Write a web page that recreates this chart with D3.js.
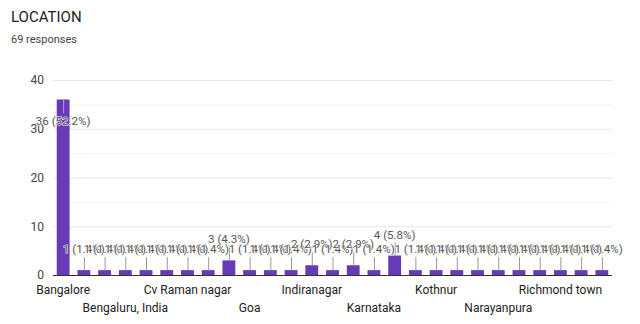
<!DOCTYPE html>
<html>
<head>
<meta charset="utf-8">
<script src="https://cdnjs.cloudflare.com/ajax/libs/d3/7.8.5/d3.min.js"></script>
<style>
  body { margin: 0; background: #fff; }
  text { font-family: Roboto, "Noto Sans", Arial, sans-serif; }
</style>
</head>
<body>
<div id="chart"></div>
<script>
// Data
var categories = ["Bangalore", "Bangalore, India", "Banglore", "Bengaluru, India", "Bommanahalli",
  "Btm layout", "Cv Raman nagar", "Domlur", "Electronic city", "Goa", "Hebbal", "Hsr layout",
  "Indiranagar", "Jakkur", "Jayanagar", "Karnataka", "Koramangala", "Kormangala", "Kothnur",
  "Marathahalli", "Mysore", "Narayanpura", "Old airport road", "Rajajinagar", "Richmond town",
  "Whitefield", "Yelahanka"];
var counts = [36, 1, 1, 1, 1, 1, 1, 1, 3, 1, 1, 1, 2, 1, 2, 1, 4, 1, 1, 1, 1, 1, 1, 1, 1, 1, 1];
var yTicks = [0, 10, 20, 30, 40];
var total = 69;

var svgWidth = 640;
var svgHeight = 324;

var svg = d3.select("#chart")
  .append("svg")
  .attr("width", svgWidth)
  .attr("height", svgHeight);

// Title
svg.append("text")
  .attr("x", 11)
  .attr("y", 22)
  .attr("font-size", "15px")
  .attr("fill", "#202124")
  .text("LOCATION");

svg.append("text")
  .attr("x", 11)
  .attr("y", 43)
  .attr("font-size", "11px")
  .attr("fill", "#444")
  .text(total + " responses");

var data = categories.map((c, i) => ({ name: c, value: counts[i] }));

var x = d3.scaleBand()
  .domain(categories)
  .range([53, 612])
  .paddingInner(0.38)
  .paddingOuter(0.18);

var y = d3.scaleLinear()
  .domain([0, 40])
  .range([275, 80]);

// Gridlines (major and minor)
svg.append("g")
  .selectAll("line")
  .data(d3.range(5, 45, 5))
  .enter()
  .append("line")
  .attr("x1", 53)
  .attr("x2", 612)
  .attr("y1", d => y(d) + 0.5)
  .attr("y2", d => y(d) + 0.5)
  .attr("stroke", d => d % 10 === 0 ? "#e6e6e6" : "#f3f3f3")
  .attr("stroke-width", 1);

// Y axis labels
var leftAxis = d3.axisLeft(y).tickValues(yTicks).tickSize(0).tickPadding(9);
var yAxis = svg.append("g")
  .attr("transform", "translate(53,0)")
  .call(leftAxis);
yAxis.select(".domain").remove();
yAxis.selectAll("text")
  .attr("font-size", "12px")
  .attr("fill", "#444")
  .style("font-family", "Roboto, sans-serif");

// Bars
svg.append("g")
  .selectAll("rect")
  .data(data)
  .enter()
  .append("rect")
  .attr("x", d => x(d.name))
  .attr("y", d => y(d.value))
  .attr("width", x.bandwidth())
  .attr("height", d => y(0) - y(d.value))
  .attr("fill", "#673ab7");

// Baseline
svg.append("line")
  .attr("x1", 53)
  .attr("x2", 612)
  .attr("y1", y(0) + 0.5)
  .attr("y2", y(0) + 0.5)
  .attr("stroke", "#333")
  .attr("stroke-width", 1);

// Annotations with stems
var inside = d => d.value > 20;
var ann = svg.append("g");
data.forEach(function(d) {
  var cx = x(d.name) + x.bandwidth() / 2;
  var top = y(d.value);
  var ty = inside(d) ? top + 25 : top - 17;
  ann.append("line")
    .attr("x1", cx + 0.5)
    .attr("x2", cx + 0.5)
    .attr("y1", inside(d) ? top : top - 13)
    .attr("y2", inside(d) ? top + 14 : top)
    .attr("stroke", inside(d) ? "#b39ddb" : "#999")
    .attr("stroke-width", 1);
  ann.append("text")
    .attr("x", cx)
    .attr("y", ty)
    .attr("text-anchor", "middle")
    .attr("font-size", "11.5px")
    .attr("fill", "#555")
    .attr("stroke", "#fff")
    .attr("stroke-width", 1)
    .attr("paint-order", "stroke")
    .text(d.value + " (" + (d.value / total * 100).toFixed(1) + "%)");
});

// X labels: every third category, alternating rows
var bottomAxis = d3.axisBottom(x)
  .tickValues(categories.filter((c, i) => i % 3 === 0))
  .tickSize(0)
  .tickPadding(0);
var xAxis = svg.append("g")
  .attr("transform", "translate(0,275)")
  .call(bottomAxis);
xAxis.select(".domain").remove();
xAxis.selectAll("text")
  .attr("font-size", "12px")
  .attr("fill", "#222")
  .style("font-family", "Roboto, sans-serif")
  .attr("dy", null)
  .attr("y", d => (categories.indexOf(d) / 3) % 2 === 0 ? 19 : 37);
</script>
</body>
</html>
